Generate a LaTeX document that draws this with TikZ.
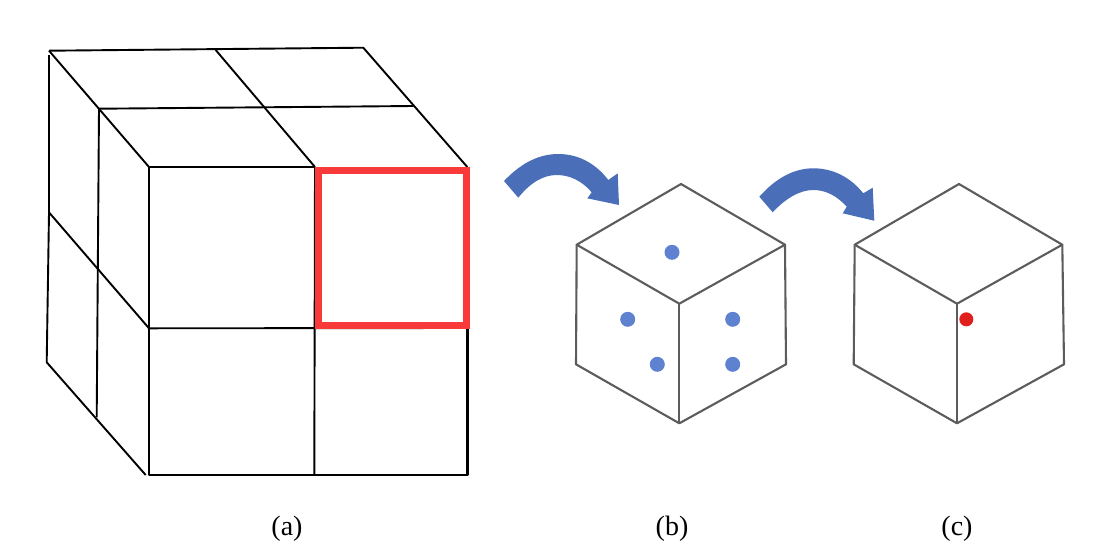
\documentclass[tikz,border=0pt]{standalone}
\usepackage{fontspec}
\setmainfont{Liberation Serif}
\definecolor{framered}{HTML}{F83A3A}
\definecolor{arrowblue}{HTML}{4A6FB8}
\definecolor{dotblue}{HTML}{5F82D0}
\definecolor{dotred}{HTML}{E0201C}
\definecolor{cubegray}{HTML}{5C5C5C}
\begin{document}
\begin{tikzpicture}[x=1pt,y=-1pt,line join=round,
    thin line/.style={draw=black,line width=1.9pt},
    front line/.style={draw=black,line width=2.8pt},
    cube line/.style={draw=cubegray,line width=2.1pt},
    bend arrow/.style={fill=arrowblue,draw=none},
    blue dot/.style={circle,fill=dotblue,inner sep=0pt,minimum size=15pt},
    red dot/.style={circle,fill=dotred,inner sep=0pt,minimum size=14pt},
    caption/.style={inner sep=0pt,font=\fontsize{28}{32}\selectfont}]
    \useasboundingbox (0,0) rectangle (1114,558);

    % cube (a)
    \draw[thin line] (49,212.7) -- (46.7,362.3) -- (145.7,475);
    \draw[thin line] (49,212.7) -- (49,55);
    \draw[thin line] (99,108.7) -- (96.7,417.3);
    \draw[thin line] (49,50.7) -- (363.3,47.7) -- (467.3,167);
    \draw[thin line] (49,50.7) -- (149,167);
    \draw[thin line] (99,108.7) -- (413.3,106);
    \draw[thin line] (215.7,50) -- (315,167);
    \draw[thin line] (49.3,212.7) -- (149,328.3);
    \draw[thin line] (149,328.3) -- (467.3,328);
    \draw[thin line] (315,167) -- (314.3,475);
    \draw[front line] (467.3,325) -- (467.3,475) -- (149,475) -- (149,167) -- (315,167);
    \draw[framered,line width=6.6pt,line join=miter] (318.3,170.3) rectangle (466.7,325.3);

    % arrow to (b)
    \fill[bend arrow] (504,181) .. controls (522,162) and (540,154) .. (558.3,154)
        .. controls (580,154) and (597,165) .. (608.3,180) -- (617.7,173.3) -- (619,205)
        -- (587.3,198.3) -- (591.7,192.3) .. controls (582,181) and (570,175) .. (556.7,175)
        .. controls (543,175) and (530,183) .. (518.3,197.7) -- cycle;

    % cube (b)
    \draw[cube line] (681,184) -- (785,244.7) -- (679.3,303.7) -- (576.7,244.7) -- cycle;
    \draw[cube line] (576.7,244.7) -- (576,364.3) -- (679.3,423.3) -- (786,364.3) -- (785,244.7);
    \draw[cube line] (679.3,303.7) -- (679.3,423.3);
    \node[blue dot] (b1) at (672,252.3) {};
    \node[blue dot] (b2) at (627.7,319.3) {};
    \node[blue dot] (b3) at (657.3,364.3) {};
    \node[blue dot] (b4) at (732.7,319.3) {};
    \node[blue dot] (b5) at (732.7,364.3) {};

    % arrow to (c)
    \fill[bend arrow] (759.3,196.7) .. controls (776,178) and (794,168.3) .. (813.3,168.3)
        .. controls (834,168.3) and (851,178) .. (863.3,193.3) -- (872.7,187.7) -- (874.3,220.7)
        -- (842.7,213.3) -- (846.7,206.7) .. controls (837,196) and (826,190) .. (813.3,190)
        .. controls (800,190) and (786,198) .. (772.7,212.3) -- cycle;

    % cube (c)
    \draw[cube line] (959,184) -- (1062.3,244.7) -- (957,303.7) -- (854.7,244.7) -- cycle;
    \draw[cube line] (854.7,244.7) -- (853.7,364.3) -- (957,423.3) -- (1064,364.3) -- (1062.3,244.7);
    \draw[cube line] (957,303.7) -- (957,423.3);
    \node[red dot] (c1) at (966.3,319.3) {};

    \node[caption] (capa) at (287,529) {(a)};
    \node[caption] (capb) at (672,529) {(b)};
    \node[caption] (capc) at (957,529) {(c)};
\end{tikzpicture}
\end{document}
